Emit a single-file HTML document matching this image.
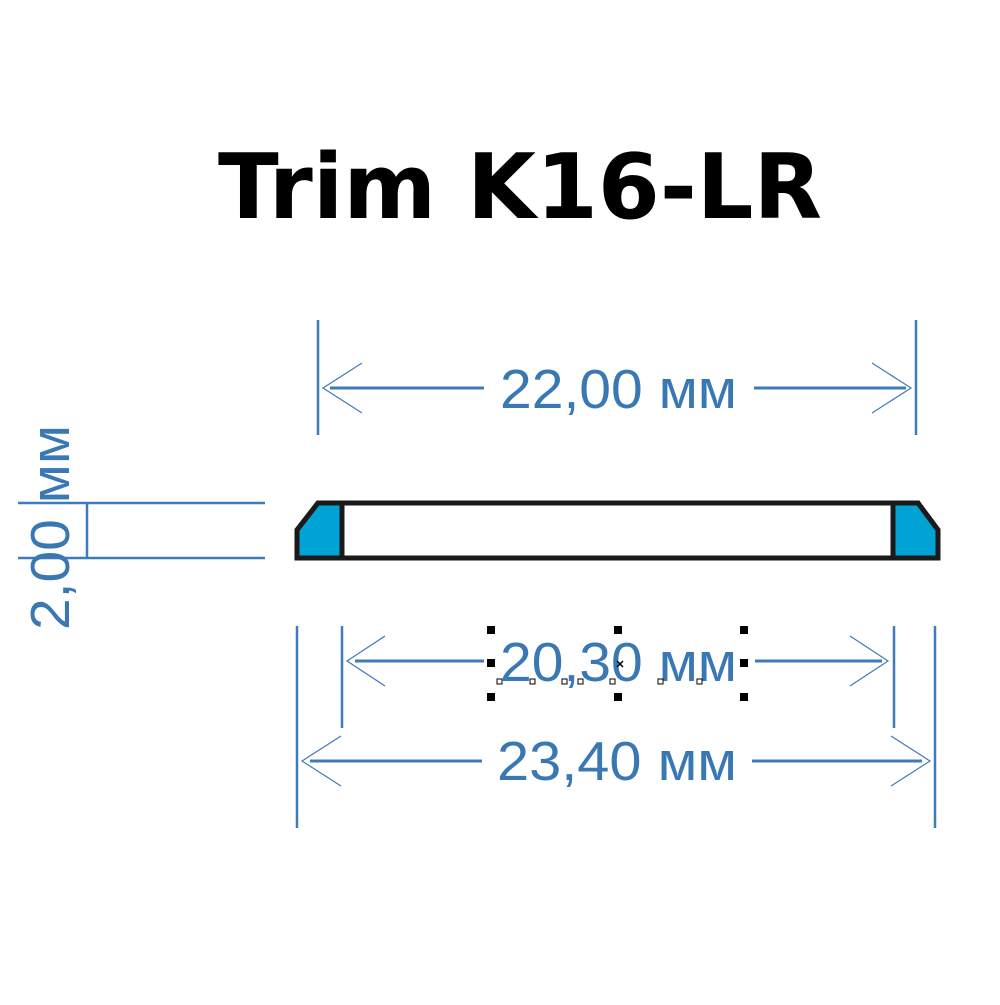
<!DOCTYPE html>
<html><head><meta charset="utf-8"><style>html,body{margin:0;padding:0;background:#fff}</style></head>
<body>
<svg width="1000" height="1000" viewBox="0 0 1000 1000" xmlns="http://www.w3.org/2000/svg">
<rect width="1000" height="1000" fill="#fff"/>
<text x="218" y="218" font-family="DejaVu Sans, Liberation Sans, sans-serif" font-weight="bold" font-size="90" textLength="604" lengthAdjust="spacingAndGlyphs" fill="#000">Trim K16-LR</text>

<g stroke="#3f7bb8" fill="none">
<!-- 22,00 -->
<line x1="318" y1="320" x2="318" y2="435" stroke-width="2.5"/>
<line x1="916" y1="320" x2="916" y2="435" stroke-width="2.5"/>
<line x1="330" y1="388" x2="484" y2="388" stroke-width="3"/>
<line x1="754" y1="388" x2="906" y2="388" stroke-width="3"/>
<polyline points="362,363 323,388 362,413" stroke-width="1.2"/>
<polyline points="872,363 911,388 872,413" stroke-width="1.2"/>
<!-- 20,30 -->
<line x1="342" y1="626" x2="342" y2="728" stroke-width="2.5"/>
<line x1="894" y1="626" x2="894" y2="728" stroke-width="2.5"/>
<line x1="355" y1="661" x2="484" y2="661" stroke-width="3"/>
<line x1="755" y1="661" x2="882" y2="661" stroke-width="3"/>
<polyline points="385,636 347,661 385,686" stroke-width="1.2"/>
<polyline points="850,636 888,661 850,686" stroke-width="1.2"/>
<!-- 23,40 -->
<line x1="297" y1="626" x2="297" y2="828" stroke-width="2.5"/>
<line x1="935" y1="626" x2="935" y2="828" stroke-width="2.5"/>
<line x1="310" y1="761" x2="482" y2="761" stroke-width="3"/>
<line x1="752" y1="761" x2="922" y2="761" stroke-width="3"/>
<polyline points="341,736 302,761 341,786" stroke-width="1.2"/>
<polyline points="891,736 930,761 891,786" stroke-width="1.2"/>
<!-- 2,00 -->
<line x1="18" y1="503" x2="265" y2="503" stroke-width="2.5"/>
<line x1="18" y1="558" x2="265" y2="558" stroke-width="2.5"/>
<line x1="87" y1="503" x2="87" y2="558" stroke-width="2.5"/>
</g>

<g font-family="Liberation Sans, Arial, sans-serif" font-size="55" fill="#3a78b4">
<text x="500" y="408" textLength="237" lengthAdjust="spacingAndGlyphs">22,00 мм</text>
<text x="500" y="681" textLength="237" lengthAdjust="spacingAndGlyphs">20,30 мм</text>
<text x="497" y="780" textLength="240" lengthAdjust="spacingAndGlyphs">23,40 мм</text>
<text transform="translate(69,630) rotate(-90)" textLength="205" lengthAdjust="spacingAndGlyphs">2,00 мм</text>
</g>

<!-- profile -->
<polygon points="318,503 918,503 938,530 938,558 297,558 297,530" fill="#fff" stroke="#1a1a1a" stroke-width="5" stroke-linejoin="miter"/>
<polygon points="318,505 340,505 340,556 299,556 299,531" fill="#00a3d4"/>
<polygon points="895,505 917,505 936,531 936,556 895,556" fill="#00a3d4"/>
<polygon points="318,503 918,503 938,530 938,558 297,558 297,530" fill="none" stroke="#1a1a1a" stroke-width="5"/>
<line x1="342" y1="503" x2="342" y2="558" stroke="#1a1a1a" stroke-width="5"/>
<line x1="893" y1="503" x2="893" y2="558" stroke="#1a1a1a" stroke-width="5"/>

<!-- selection handles -->
<g fill="#000">
<rect x="487" y="626" width="8" height="8"/><rect x="614" y="626" width="8" height="8"/><rect x="740" y="626" width="8" height="8"/>
<rect x="487" y="659" width="8" height="8"/><rect x="740" y="659" width="8" height="8"/>
<rect x="487" y="693" width="8" height="8"/><rect x="614" y="693" width="8" height="8"/><rect x="740" y="693" width="8" height="8"/>
</g>
<g fill="#fff" stroke="#000" stroke-width="1">
<rect x="497" y="679" width="5" height="5"/><rect x="530" y="679" width="5" height="5"/><rect x="562" y="679" width="5" height="5"/><rect x="578" y="679" width="5" height="5"/><rect x="610" y="679" width="5" height="5"/><rect x="658" y="679" width="5" height="5"/><rect x="697" y="679" width="5" height="5"/>
</g>
<g stroke="#000" stroke-width="1.5"><line x1="617" y1="661" x2="623" y2="667"/><line x1="623" y1="661" x2="617" y2="667"/></g>
</svg>
</body></html>
